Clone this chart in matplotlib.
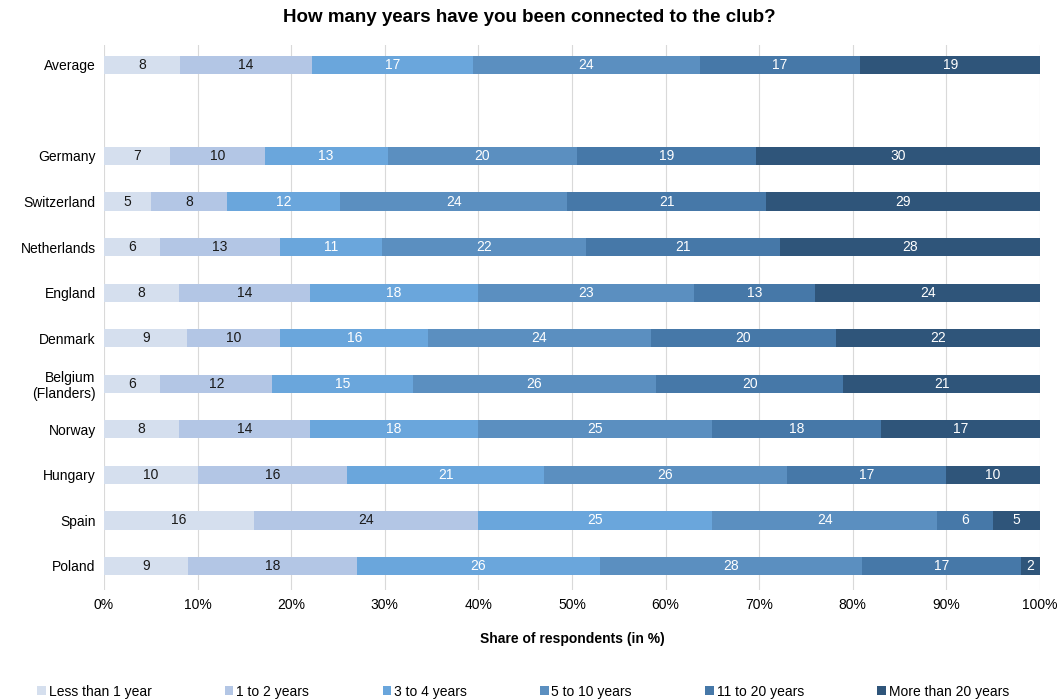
import matplotlib
matplotlib.use("Agg")
import matplotlib.pyplot as plt
import numpy as np

plt.rcParams['font.family'] = ['Liberation Sans', 'DejaVu Sans']

categories = ["Poland", "Spain", "Hungary", "Norway", "Belgium\n(Flanders)", "Denmark",
              "England", "Netherlands", "Switzerland", "Germany", "Average"]
positions = [0, 1, 2, 3, 4, 5, 6, 7, 8, 9, 11]
series_names = ["Less than 1 year", "1 to 2 years", "3 to 4 years", "5 to 10 years",
                "11 to 20 years", "More than 20 years"]
less_than_1 = [9, 16, 10, 8, 6, 9, 8, 6, 5, 7, 8]
one_to_2 = [18, 24, 16, 14, 12, 10, 14, 13, 8, 10, 14]
three_to_4 = [26, 25, 21, 18, 15, 16, 18, 11, 12, 13, 17]
five_to_10 = [28, 24, 26, 25, 26, 24, 23, 22, 24, 20, 24]
eleven_to_20 = [17, 6, 17, 18, 20, 20, 13, 21, 21, 19, 17]
more_than_20 = [2, 5, 10, 17, 21, 22, 24, 28, 29, 30, 19]

colors = ["#D5DFEE", "#B3C6E5", "#6AA6DC", "#5B8FC0", "#4678A8", "#2F557A"]
text_colors = ["#1a1a1a", "#1a1a1a", "white", "white", "white", "white"]

data = np.array([less_than_1, one_to_2, three_to_4, five_to_10, eleven_to_20, more_than_20], dtype=float)
totals = data.sum(axis=0)
shares = data / totals * 100

fig = plt.figure(figsize=(10.59, 7.0), dpi=100)
ax = fig.add_axes([0.0982, 0.157, 0.982 - 0.0982, 0.936 - 0.157])

left = np.zeros(len(categories))
for i, name in enumerate(series_names):
    bars = ax.barh(positions, shares[i], left=left, height=0.4, color=colors[i],
                   label=name, zorder=3)
    for j, b in enumerate(bars):
        ax.text(left[j] + shares[i][j] / 2, positions[j], f"{int(data[i][j])}",
                ha="center", va="center", fontsize=10, color=text_colors[i], zorder=4)
    left += shares[i]

ax.set_xlim(0, 100)
ax.set_ylim(-0.53, 11.44)
ax.set_yticks(positions)
ax.set_yticklabels(categories, fontsize=10)
ax.set_xticks(np.arange(0, 101, 10))
ax.set_xticklabels([f"{v}%" for v in range(0, 101, 10)], fontsize=10)
ax.tick_params(length=0, pad=6)
ax.grid(axis="x", color="#D9D9D9", linewidth=0.8, zorder=0)
for s in ax.spines.values():
    s.set_visible(False)
ax.set_xlabel("Share of respondents (in %)", fontsize=10, fontweight="bold", labelpad=14)
fig.suptitle("How many years have you been connected to the club?", fontsize=13.5,
             fontweight="bold", y=0.987)

fig.legend(loc="lower center", bbox_to_anchor=(0.494, -0.016), ncol=6, frameon=False,
           fontsize=10, handlelength=0.6, handleheight=0.6, handletextpad=0.2,
           columnspacing=5.3)

fig.savefig("out.png", dpi=100)
